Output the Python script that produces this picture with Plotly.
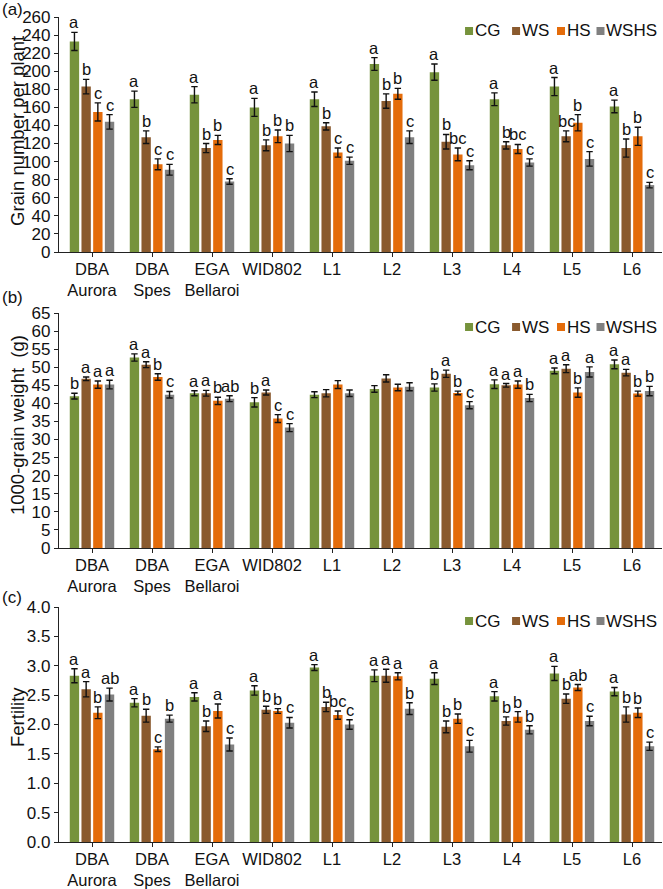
import plotly.graph_objects as go

categories = ["DBA Aurora", "DBA Spes", "EGA Bellaroi", "WID802", "L1", "L2", "L3", "L4", "L5", "L6"]
tick_labels = ["DBA<br>Aurora", "DBA<br>Spes", "EGA<br>Bellaroi", "WID802", "L1", "L2", "L3", "L4", "L5", "L6"]
series_names = ["CG", "WS", "HS", "WSHS"]
colors = ["#76933C", "#8A5A2E", "#E46C0A", "#808080"]

# (a) Grain number per plant
gn_CG = [233, 169, 174, 160, 169, 208, 199, 169, 183, 161]
gn_CG_err = [10, 9, 9, 10, 8, 7, 9, 7, 10, 7]
gn_WS = [183, 127, 115, 118, 139, 167, 122, 118, 128, 115]
gn_WS_err = [8, 7, 5, 6, 4, 8, 8, 4, 6, 10]
gn_HS = [155, 97, 124, 128, 110, 175, 108, 114, 143, 128]
gn_HS_err = [10, 6, 5, 7, 5, 6, 7, 5, 9, 10]
gn_WSHS = [144, 91, 78, 120, 101, 127, 96, 99, 103, 74]
gn_WSHS_err = [8, 6, 3, 9, 4, 7, 5, 4, 8, 3]
gn_let_CG = ["a"] * 10
gn_let_WS = ["b", "b", "b", "b", "b", "b", "b", "b", "bc", "b"]
gn_let_HS = ["c", "c", "b", "b", "c", "b", "bc", "bc", "b", "b"]
gn_let_WSHS = ["c", "c", "c", "b", "c", "c", "c", "c", "c", "c"]

# (b) 1000-grain weight
tgw_CG = [42.0, 52.7, 42.8, 40.3, 42.4, 44.0, 44.4, 45.3, 49.0, 50.8]
tgw_CG_err = [0.8, 1.0, 0.7, 1.3, 0.8, 0.9, 1.0, 1.2, 0.8, 1.2]
tgw_WS = [46.8, 50.7, 42.8, 43.0, 42.8, 46.9, 48.2, 45.0, 49.6, 48.5]
tgw_WS_err = [0.5, 0.8, 0.8, 0.7, 1.0, 1.0, 1.0, 0.5, 1.1, 0.9]
tgw_HS = [45.2, 47.3, 40.7, 35.8, 45.2, 44.4, 42.9, 45.2, 43.0, 42.7]
tgw_HS_err = [1.0, 0.9, 1.0, 1.1, 1.1, 0.9, 0.5, 1.0, 1.3, 0.7]
tgw_WSHS = [45.2, 42.4, 41.3, 33.3, 42.8, 44.6, 39.5, 41.5, 48.7, 43.4]
tgw_WSHS_err = [1.2, 0.9, 0.8, 1.1, 0.9, 1.1, 1.0, 1.0, 1.4, 1.3]
tgw_let_CG = ["b", "a", "a", "b", "", "", "b", "a", "a", "a"]
tgw_let_WS = ["a", "a", "a", "a", "", "", "a", "a", "a", "a"]
tgw_let_HS = ["a", "b", "b", "c", "", "", "b", "a", "b", "b"]
tgw_let_WSHS = ["a", "c", "ab", "c", "", "", "c", "b", "a", "b"]

# (c) Fertility
fe_CG = [2.83, 2.37, 2.47, 2.58, 2.97, 2.83, 2.78, 2.48, 2.87, 2.56]
fe_CG_err = [0.12, 0.07, 0.07, 0.08, 0.05, 0.10, 0.10, 0.08, 0.12, 0.07]
fe_WS = [2.60, 2.15, 1.97, 2.25, 2.30, 2.83, 1.96, 2.06, 2.44, 2.17]
fe_WS_err = [0.13, 0.11, 0.09, 0.06, 0.08, 0.11, 0.10, 0.07, 0.08, 0.13]
fe_HS = [2.20, 1.58, 2.23, 2.23, 2.16, 2.82, 2.10, 2.13, 2.63, 2.20]
fe_HS_err = [0.10, 0.04, 0.12, 0.04, 0.07, 0.06, 0.08, 0.09, 0.05, 0.08]
fe_WSHS = [2.51, 2.10, 1.66, 2.03, 2.00, 2.27, 1.63, 1.91, 2.06, 1.63]
fe_WSHS_err = [0.11, 0.06, 0.11, 0.09, 0.08, 0.10, 0.10, 0.07, 0.08, 0.07]
fe_let_CG = ["a"] * 10
fe_let_WS = ["a", "b", "b", "b", "b", "a", "b", "b", "b", "b"]
fe_let_HS = ["b", "c", "a", "b", "bc", "a", "b", "b", "ab", "b"]
fe_let_WSHS = ["ab", "b", "c", "c", "c", "b", "c", "b", "c", "c"]

panels = [
    dict(label="(a)", title="Grain number per plant", rng=[0, 260], dtick=20, fmt="d",
         vals=[gn_CG, gn_WS, gn_HS, gn_WSHS], errs=[gn_CG_err, gn_WS_err, gn_HS_err, gn_WSHS_err],
         lets=[gn_let_CG, gn_let_WS, gn_let_HS, gn_let_WSHS]),
    dict(label="(b)", title="1000-grain weight\u00a0 (g)", rng=[0, 65], dtick=5, fmt="d",
         vals=[tgw_CG, tgw_WS, tgw_HS, tgw_WSHS], errs=[tgw_CG_err, tgw_WS_err, tgw_HS_err, tgw_WSHS_err],
         lets=[tgw_let_CG, tgw_let_WS, tgw_let_HS, tgw_let_WSHS]),
    dict(label="(c)", title="Fertility", rng=[0, 4], dtick=0.5, fmt=".1f",
         vals=[fe_CG, fe_WS, fe_HS, fe_WSHS], errs=[fe_CG_err, fe_WS_err, fe_HS_err, fe_WSHS_err],
         lets=[fe_let_CG, fe_let_WS, fe_let_HS, fe_let_WSHS]),
]

H = 889
W = 663
ML = 59
FONT = "Liberation Sans, Arial, sans-serif"
AX = "#222222"
# plot-area pixel extents (top, bottom)
px_rows = [(17, 252), (313, 548), (607, 842)]
label_y = [9, 298, 597]
title_y = [131, 425, 717]

BARGAP = 0.22
fig = go.Figure()
annotations = []
shapes = []

for p, panel in enumerate(panels):
    n = "" if p == 0 else str(p + 1)
    xa, ya = "x" + n, "y" + n
    for j, name in enumerate(series_names):
        fig.add_trace(go.Bar(
            x=categories, y=panel["vals"][j], name=name, xaxis=xa, yaxis=ya,
            marker=dict(color=colors[j], line=dict(width=0)),
            error_y=dict(type="data", array=panel["errs"][j], color="#111111", thickness=1.4, width=3.2),
            showlegend=False,
        ))
        for i in range(len(categories)):
            t = panel["lets"][j][i]
            if not t:
                continue
            annotations.append(dict(
                x=i + (j - 1.5) * (1 - BARGAP) / 4, y=panel["vals"][j][i] + panel["errs"][j][i],
                xref=xa, yref=ya, text=t, showarrow=False, xanchor="center", yanchor="bottom",
                font=dict(family=FONT, size=16.5, color="#111111"), yshift=-1,
            ))
    top, bot = px_rows[p]
    dom = [1 - bot / H, 1 - top / H]
    fig.layout["xaxis" + n] = dict(
        domain=[0, 1], anchor=ya, type="category", range=[-0.55, 9.5], automargin=False,
        tickvals=categories, ticktext=tick_labels, ticks="outside", ticklen=4, tickwidth=1.2,
        tickcolor=AX, showline=True, linecolor=AX, linewidth=1.2, showgrid=False,
        ticklabelstandoff=-2,
        tickfont=dict(family=FONT, size=16.5, color="#111111"),
    )
    fig.layout["yaxis" + n] = dict(
        domain=dom, anchor=xa, range=panel["rng"], dtick=panel["dtick"], tickformat=panel["fmt"],
        ticks="outside", ticklen=4, tickwidth=1.2, tickcolor=AX, showline=True, linecolor=AX,
        linewidth=1.2, showgrid=False, zeroline=False, automargin=False,
        tickfont=dict(family=FONT, size=17, color="#111111"),
    )
    # y-axis title
    annotations.append(dict(x=0, y=1 - title_y[p] / H, xref="paper", yref="paper", xshift=17 - ML,
                            text=panel["title"], textangle=-90, showarrow=False,
                            xanchor="center", yanchor="middle",
                            font=dict(family=FONT, size=18.5, color="#111111")))
    # panel label
    annotations.append(dict(x=0, y=1 - label_y[p] / H, xref="paper", yref="paper", text=panel["label"],
                            showarrow=False, xanchor="left", yanchor="middle", xshift=-ML,
                            font=dict(family=FONT, size=17, color="#111111")))
    # manual legend
    leg_y = 1 - 14 / (bot - top)
    sq_x = [0.680, 0.758, 0.8325, 0.898]
    for j, name in enumerate(series_names):
        shapes.append(dict(type="rect", xref=xa + " domain", yref=ya + " domain",
                           xsizemode="pixel", ysizemode="pixel", xanchor=sq_x[j], yanchor=leg_y,
                           x0=-4, x1=4, y0=-4, y1=4, fillcolor=colors[j], line=dict(width=0)))
        annotations.append(dict(x=sq_x[j], y=leg_y, xref=xa + " domain", yref=ya + " domain",
                                text=name, showarrow=False, xanchor="left", yanchor="middle", xshift=4,
                                font=dict(family=FONT, size=17, color="#111111")))

fig.update_layout(
    width=W, height=H, barmode="group", bargap=BARGAP, bargroupgap=0.2,
    margin=dict(l=ML, r=1, t=0, b=0), plot_bgcolor="white", paper_bgcolor="white",
    annotations=annotations, shapes=shapes, font=dict(family=FONT),
)
fig.write_html("out.html", config={"displayModeBar": False},
               post_script="document.body.style.margin='0';document.body.style.padding='0';")
